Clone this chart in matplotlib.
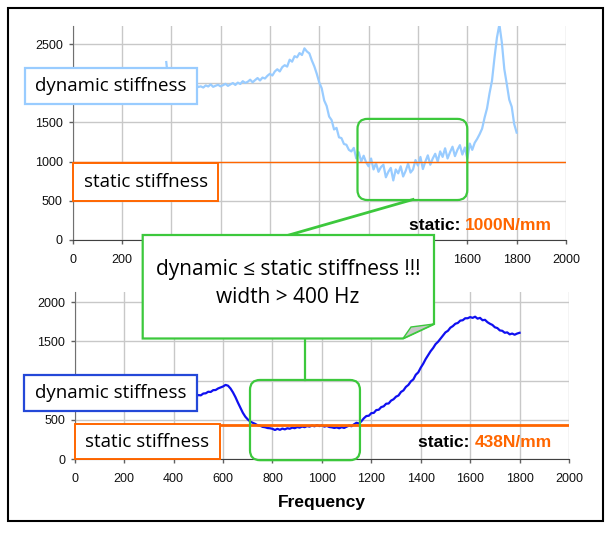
import matplotlib
matplotlib.use("Agg")
import matplotlib.pyplot as plt
from matplotlib.patches import Rectangle, FancyBboxPatch, Polygon
from matplotlib.lines import Line2D
from matplotlib.text import Annotation
from matplotlib.transforms import Affine2D, IdentityTransform

# ---------------- data ----------------
top_freq = list(range(380, 1801, 10))
top_dynamic = [
    2270, 1985, 1962, 1948, 1970, 1944, 1958, 1966, 1950, 1975,
    1948, 1962, 1980, 1952, 1960, 1945, 1972, 1958, 1985, 1954,
    1968, 1980, 1960, 1975, 1992, 1966, 1985, 2002, 1978, 2008,
    1990, 2026, 2004, 2018, 2045, 2012, 2040, 2066, 2035, 2072,
    2060, 2095, 2120, 2098, 2150, 2178, 2150, 2205, 2230, 2212,
    2300, 2275, 2345, 2330, 2385, 2360, 2445, 2405, 2380, 2290,
    2215, 2120, 2010, 1935, 1780, 1710, 1575, 1530, 1410, 1430,
    1310, 1300, 1225, 1215, 1150, 1130, 1175, 1040, 1120, 1000,
    1075, 990, 940, 1040, 900, 980, 870, 930, 960, 800,
    870, 920, 760, 900, 850, 940, 810, 880, 975, 860,
    900, 1020, 950, 1060, 905, 1000, 1080, 960, 1040, 1100,
    1000, 1130, 1060, 1170, 1040, 1120, 1190, 1070, 1150, 1210,
    1090, 1180, 1040, 1230, 1150, 1240, 1290, 1350, 1420, 1560,
    1680, 1870, 2030, 2320, 2580, 2750, 2520, 2180, 1990, 1790,
    1700, 1480, 1370,
]
top_static = 1000

bot_freq = list(range(490, 1801, 10))
bot_dynamic = [
    800, 815, 812, 835, 838, 858, 855, 878, 880, 900,
    912, 925, 945, 935, 900, 850, 790, 720, 655, 590,
    540, 505, 478, 462, 448, 430, 425, 410, 405, 395,
    392, 385, 370, 385, 372, 388, 378, 392, 386, 400,
    393, 407, 400, 414, 406, 420, 413, 427, 417, 432,
    420, 430, 413, 422, 408, 404, 396, 403, 392, 406,
    396, 412, 426, 418, 442, 462, 452, 482, 520, 548,
    552, 585, 588, 624, 628, 662, 672, 705, 708, 745,
    762, 795, 810, 855, 875, 920, 945, 990, 1015, 1075,
    1105, 1165, 1215, 1275, 1325, 1375, 1415, 1465, 1495, 1535,
    1575, 1615, 1635, 1675, 1695, 1725, 1735, 1765, 1770, 1795,
    1795, 1810, 1800, 1815, 1790, 1800, 1770, 1775, 1745, 1725,
    1710, 1680, 1670, 1640, 1635, 1610, 1615, 1590, 1600, 1585,
    1600, 1610,
]
bot_static = 438

x_ticks = [0, 200, 400, 600, 800, 1000, 1200, 1400, 1600, 1800, 2000]
top_yticks = [0, 500, 1000, 1500, 2000, 2500]
bot_yticks = [0, 500, 1000, 1500, 2000]

# tick labels covered by the annotation boxes in the original picture
top_hidden_x = [400, 600, 800, 1000, 1200, 1400]
top_hidden_y = [2000]
bot_hidden_y = [1000]

# highlighted frequency windows (data coords)
top_window = (1155, 1600, 510, 1545)
bot_window = (709, 1154, -15, 1008)

# ---------------- style ----------------
W, H = 605, 533
C_LIGHT = "#99CCFF"
C_BLUE = "#1010F0"
C_BLUEBOX = "#2448D8"
C_ORANGE = "#FF6600"
C_GREEN = "#3CC83C"
C_GRID = "#C8C8C8"
TICKFONT = "Liberation Sans"
LABFONT = ["Open Sans", "DejaVu Sans"]

fig = plt.figure(figsize=(W / 100, H / 100), dpi=100)
fig.patch.set_facecolor("white")
PX = Affine2D().scale(1, -1).translate(0, H)  # pixel coords (top-left origin)


def style_axes(ax, ylim, yticks, hide_x=(), hide_y=()):
    ax.set_xlim(0, 2000)
    ax.set_ylim(*ylim)
    ax.set_xticks(x_ticks)
    ax.set_xticklabels(["" if v in hide_x else str(v) for v in x_ticks])
    ax.set_yticks(yticks)
    ax.set_yticklabels(["" if v in hide_y else str(v) for v in yticks])
    ax.grid(True, color=C_GRID, linewidth=1)
    ax.set_axisbelow(True)
    for s in ("top", "right"):
        ax.spines[s].set_visible(False)
    ax.spines["left"].set_color("#707070")
    ax.spines["bottom"].set_color("#404040")
    ax.tick_params(axis="both", direction="out", length=3, width=1,
                   color="#606060", labelsize=9, labelcolor="#111111")
    ax.tick_params(axis="x", pad=7)
    ax.tick_params(axis="y", pad=4)
    for lab in ax.get_xticklabels() + ax.get_yticklabels():
        lab.set_fontfamily(TICKFONT)


ax1 = fig.add_axes([72.5 / W, 1 - 240 / H, (566 - 72.5) / W, (240 - 26) / H])
style_axes(ax1, (0, 2730), top_yticks, top_hidden_x, top_hidden_y)
ax1.plot(top_freq, top_dynamic, color=C_LIGHT, linewidth=1.6, zorder=2)
ax1.axhline(top_static, color=C_ORANGE, linewidth=1, zorder=3)

ax2 = fig.add_axes([74.8 / W, 1 - 459 / H, (569 - 74.8) / W, (459 - 292) / H])
style_axes(ax2, (0, 2130), bot_yticks, (), bot_hidden_y)
ax2.plot(bot_freq, bot_dynamic, color=C_BLUE, linewidth=1.6, zorder=2)
ax2.axhline(bot_static, color=C_ORANGE, linewidth=2, zorder=3)
ax2.set_xlabel("Frequency", fontsize=12.5, fontweight="bold",
               family=TICKFONT, labelpad=7)

# ---------------- static value texts ----------------
def static_text(y_px, value):
    t = fig.text(552, y_px, value, transform=PX, ha="right", va="center",
                 color=C_ORANGE, fontsize=12.5, fontweight="bold",
                 family=TICKFONT, zorder=6)
    fig.add_artist(Annotation(
        "static: ", xy=(0, 0.5), xycoords=t, ha="right", va="center",
        fontsize=12.5, fontweight="bold", family=TICKFONT, color="black",
        zorder=6))

static_text(225, f"{top_static}N/mm")
static_text(442.5, f"{bot_static}N/mm")

# ---------------- label boxes ----------------
def label_box(x0, y0, x1, y1, text, edge, lw=2):
    fig.add_artist(Rectangle((x0, y1), x1 - x0, y0 - y1, transform=PX,
                             facecolor="white", edgecolor=edge,
                             linewidth=lw, zorder=5))
    fig.text((x0 + x1) / 2, (y0 + y1) / 2, text, transform=PX,
             ha="center", va="center", fontsize=13.5, family=LABFONT,
             color="black", zorder=6)

label_box(25, 67.7, 196.7, 104.3, "dynamic stiffness", C_LIGHT, 1.6)
label_box(73.3, 162.7, 218.2, 200.5, "static stiffness", C_ORANGE, 1.4)
label_box(23.9, 375, 196.7, 410.7, "dynamic stiffness", C_BLUEBOX, 1.6)
label_box(75.2, 424.3, 219.8, 459, "static stiffness", C_ORANGE, 1.4)

# ---------------- green highlight windows ----------------
def window(ax, win):
    x0, x1, y0, y1 = win
    (dx0, dy0) = ax.transData.transform((x0, y0))
    (dx1, dy1) = ax.transData.transform((x1, y1))
    fig.add_artist(FancyBboxPatch((dx0, dy0), dx1 - dx0, dy1 - dy0,
                                  boxstyle="round,pad=0,rounding_size=10",
                                  transform=IdentityTransform(),
                                  facecolor="none", edgecolor=C_GREEN,
                                  linewidth=1.6, zorder=4))

window(ax1, top_window)
window(ax2, bot_window)

# ---------------- callout ----------------
fig.add_artist(Line2D([413, 289], [199.5, 235], transform=PX,
                      color=C_GREEN, linewidth=2, zorder=4))
fig.add_artist(Line2D([305, 305], [338.5, 380], transform=PX,
                      color=C_GREEN, linewidth=1.6, zorder=4))
fig.add_artist(Polygon([(142.7, 235), (434, 235), (434, 324),
                        (403, 338.5), (142.7, 338.5)], closed=True,
                       transform=PX, facecolor="white", edgecolor=C_GREEN,
                       linewidth=1.6, zorder=7))
fig.add_artist(Polygon([(403, 338.5), (411, 327), (434, 324)], closed=True,
                       transform=PX, facecolor="#C8C8C8", edgecolor=C_GREEN,
                       linewidth=1.0, zorder=7))
fig.text(288, 269.5, "dynamic \u2264 static stiffness !!!", transform=PX,
         ha="center", va="center", fontsize=15, family=LABFONT, zorder=8)
fig.text(288, 297.5, "width > 400 Hz", transform=PX,
         ha="center", va="center", fontsize=15, family=LABFONT, zorder=8)

# ---------------- outer frame ----------------
fig.add_artist(Rectangle((7.5, 521), 595, -513, transform=PX,
                         facecolor="none", edgecolor="black",
                         linewidth=1.5, zorder=10))

fig.savefig("out.png", dpi=100)
